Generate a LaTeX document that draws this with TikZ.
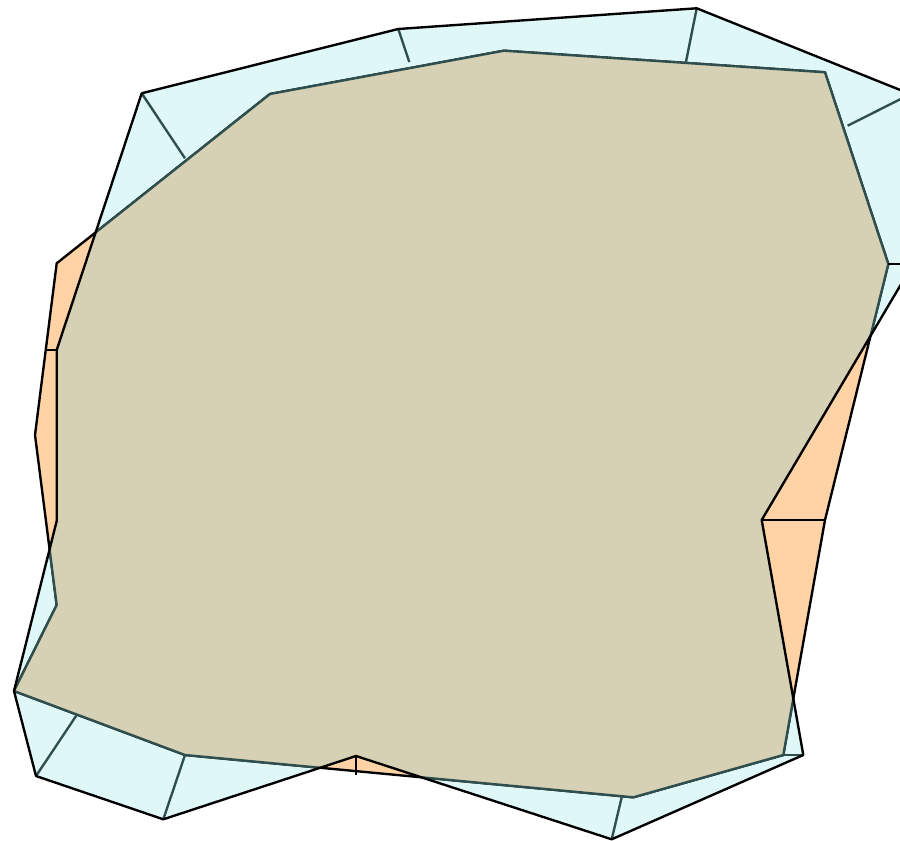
\documentclass[tikz,border=0pt]{standalone}
\definecolor{shellcyan}{HTML}{E0F7F8}
\definecolor{spillorange}{HTML}{FFD3A5}
\definecolor{overlaptan}{HTML}{D6D0B4}
\definecolor{slate}{HTML}{2F4F4F}
\tikzset{
  outer edge/.style={draw=black, line width=1.35pt, line join=round},
  inner edge/.style={draw=slate, line width=1.35pt, line join=round},
}
\begin{document}
\begin{tikzpicture}[x=0.02cm, y=-0.02cm]
   \useasboundingbox (0,0) rectangle (900,841);
   \clip (0,0) rectangle (900,841);
   % outer polygon
   \foreach \n/\x/\y in
     { 1/141.7/93.3,  2/398.3/29,   3/696.7/8.3,  4/910.4/94.1,
       5/913/264,     6/761.7/520,  7/803.3/755,  8/611.7/839.3,
       9/356/756,    10/163.3/819.3,11/36/776,   12/14/691,
      13/56.7/521,   14/56.7/350}
     \coordinate (o\n) at (\x,\y);
   % inner polygon
   \foreach \n/\x/\y in
     { 1/270/94,      2/504/50.7,   3/825/72.3,   4/888.3/264,
       5/825/520,     6/783.3/755,  7/633.3/797.3,8/185/755,
       9/14/691,     10/56.7/605,  11/35/435,    12/56.7/263.3}
     \coordinate (i\n) at (\x,\y);
   % feet of the links on the inner polygon
   \foreach \n/\x/\y in
     { 1/185/158.3, 2/409.3/62, 3/686/61.7, 4/847.7/125.7,
       8/621.7/797.3, 9/356/775, 11/76.7/715, 14/46.7/350}
     \coordinate (f\n) at (\x,\y);

   \fill[shellcyan] (o1) \foreach \k in {2,...,14} { -- (o\k) } -- cycle;
   \fill[spillorange] (i1) \foreach \k in {2,...,12} { -- (i\k) } -- cycle;
   \path[outer edge] (i1) \foreach \k in {2,...,12} { -- (i\k) } -- cycle;
   \begin{scope}
     \clip (o1) \foreach \k in {2,...,14} { -- (o\k) } -- cycle;
     \path[inner edge, fill=overlaptan] (i1) \foreach \k in {2,...,12} { -- (i\k) } -- cycle;
   \end{scope}

   % links from the outer corners
   \foreach \a/\b in {o1/f1, o2/f2, o3/f3, o4/f4, o7/i6, o8/f8, o10/i8, o11/f11}
     \draw[inner edge] (\a) -- (\b);
   \foreach \a/\b in {o5/i4, o6/i5, o9/f9, o14/f14}
     \draw[outer edge] (\a) -- (\b);

   \path[outer edge] (o1) \foreach \k in {2,...,14} { -- (o\k) } -- cycle;
\end{tikzpicture}
\end{document}
